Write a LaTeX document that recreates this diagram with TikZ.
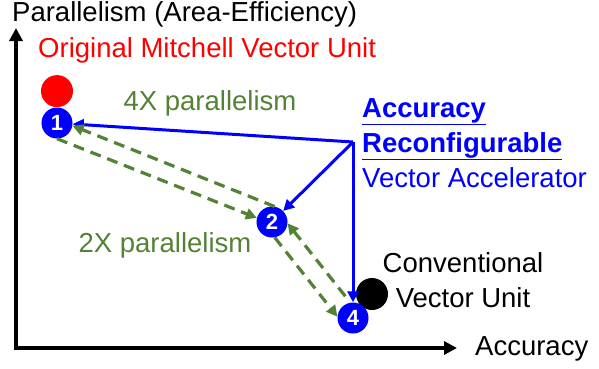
\documentclass[tikz,border=0pt]{standalone}
\usepackage{fontspec}
\setmainfont{Liberation Sans}
\usepackage{xcolor}
\usetikzlibrary{positioning,arrows.meta}

\definecolor{pgreen}{RGB}{84,130,53}

\begin{document}
\begin{tikzpicture}[x=1pt, y=-1pt,
  axis/.style={line width=4pt, line join=miter, {Triangle[length=13pt,width=13pt]}-{Triangle[length=13pt,width=13pt]}},
  lbl/.style={font=\fontsize{27.5}{35}\selectfont, inner sep=0pt},
  numdot/.style={circle, fill=blue, minimum size=31pt, inner sep=0pt, text=white, font=\fontsize{22}{22}\selectfont\bfseries},
  dot/.style={circle, minimum size=32pt, inner sep=0pt},
  move/.style={draw=blue, line width=3pt, -{Triangle[length=11pt,width=11pt]}},
  hop/.style={draw=pgreen, line width=3.2pt, dash pattern=on 11pt off 7pt, -{Triangle[length=11pt,width=11pt]}},
]
\useasboundingbox (0,0) rectangle (599,368);

% Axes
\coordinate (ytop) at (16,28);
\coordinate (orig0) at (16,348);
\coordinate (xend) at (457,348);
\draw[axis] (ytop) -- (orig0) -- (xend);
\node[lbl, anchor=west] (ylabel) at (12,14) {Parallelism (Area-Efficiency)};
\node[lbl, anchor=west] (xlabel) at (475,349) {Accuracy};

% Design points
\node[numdot] (n1) at (57,123) {1};
\node[dot, fill=red, above=0pt of n1] (mitchell) {};
\node[lbl, text=red, anchor=west] (mitchlbl) at (38,50) {Original Mitchell Vector Unit};
\node[numdot] (n2) at (272,222) {2};
\node[dot, fill=black] (conv) at (372,294) {};
\node[numdot] (n4) at (353,318) {4};
\node[lbl, align=center] (convlbl) at (463,280) {Conventional\\Vector Unit};

% Accelerator
\coordinate (corner) at (353,142);
\node[lbl, text=blue, align=left, anchor=west] (accel) at (362,143)
  {{\color{blue}\underline{\textbf{Accuracy}}}\\{\color{blue}\underline{\textbf{Reconfigurable}}}\\Vector Accelerator};
\draw[move] (corner) -- (n1);
\draw[move] (corner) -- (n2);
\draw[move] (corner) -- (n4);

% Parallelism steps
\draw[hop] (n1.south) -- (n2.165);
\draw[hop] (n2.80) -- (n1.-10);
\draw[hop] (n2.-80) -- (n4.175);
\draw[hop, shorten <=8pt] (n4.100) -- (n2.-5);
\node[lbl, text=pgreen] (par4) at (210,103) {4X parallelism};
\node[lbl, text=pgreen] (par2) at (165,245) {2X parallelism};

\end{tikzpicture}
\end{document}
